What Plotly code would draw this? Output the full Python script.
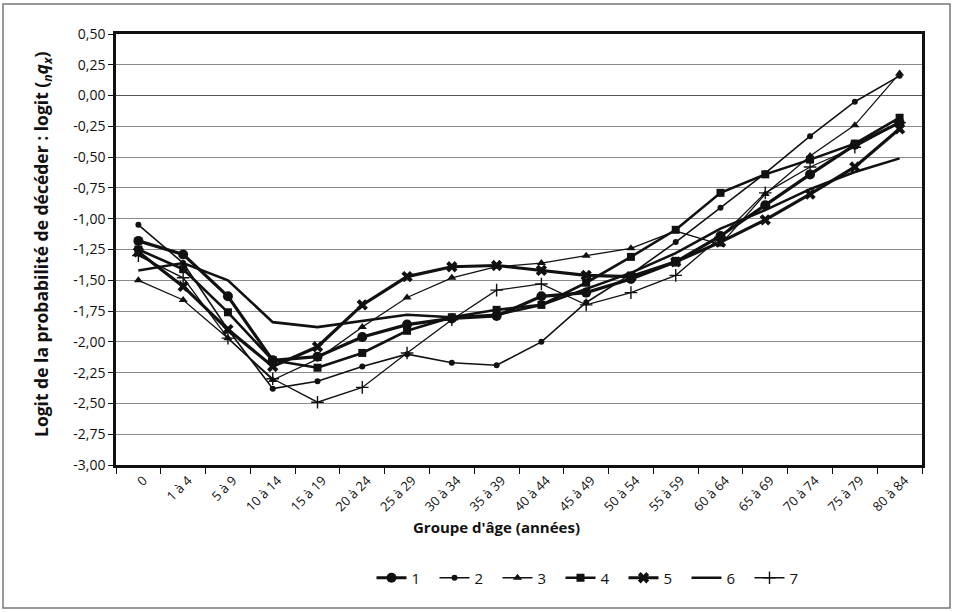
import plotly.graph_objects as go

# Age groups (x categories)
age_groups = ["0", "1 à 4", "5 à 9", "10 à 14", "15 à 19", "20 à 24", "25 à 29",
              "30 à 34", "35 à 39", "40 à 44", "45 à 49", "50 à 54", "55 à 59",
              "60 à 64", "65 à 69", "70 à 74", "75 à 79", "80 à 84"]

# Logit of the probability of dying, per series
s1 = [-1.18, -1.29, -1.63, -2.15, -2.12, -1.96, -1.86, -1.81, -1.79, -1.63, -1.60, -1.49,
      -1.35, -1.14, -0.89, -0.64, -0.40, -0.22]
s2 = [-1.05, -1.36, -1.90, -2.38, -2.32, -2.20, -2.10, -2.17, -2.19, -2.00, -1.68, -1.45,
      -1.19, -0.91, -0.63, -0.33, -0.05, 0.16]
s3 = [-1.50, -1.66, -1.97, -2.31, -2.14, -1.88, -1.64, -1.48, -1.39, -1.36, -1.30, -1.24,
      -1.10, -1.21, -0.80, -0.49, -0.24, 0.18]
s4 = [-1.25, -1.41, -1.76, -2.15, -2.21, -2.09, -1.91, -1.80, -1.74, -1.70, -1.52, -1.31,
      -1.09, -0.79, -0.64, -0.52, -0.39, -0.18]
s5 = [-1.27, -1.55, -1.90, -2.20, -2.04, -1.70, -1.47, -1.39, -1.38, -1.42, -1.46, -1.47,
      -1.35, -1.19, -1.01, -0.80, -0.58, -0.27]
s6 = [-1.42, -1.36, -1.50, -1.84, -1.88, -1.83, -1.78, -1.80, -1.78, -1.70, -1.57, -1.44,
      -1.28, -1.08, -0.93, -0.76, -0.62, -0.51]
s7 = [-1.30, -1.48, -1.97, -2.30, -2.49, -2.37, -2.09, -1.82, -1.58, -1.53, -1.70, -1.60,
      -1.46, -1.15, -0.79, -0.58, -0.42, -0.22]

series_names = ["1", "2", "3", "4", "5", "6", "7"]

y_ticks = [0.5, 0.25, 0.0, -0.25, -0.5, -0.75, -1.0, -1.25, -1.5, -1.75,
           -2.0, -2.25, -2.5, -2.75, -3.0]
y_tick_text = [f"{v:.2f}".replace(".", ",") for v in y_ticks]

INK = "#111111"
FONT = "Open Sans"

styles = [
    dict(line=dict(width=3.2), marker=dict(symbol="circle", size=10)),
    dict(line=dict(width=1.6), marker=dict(symbol="circle", size=6)),
    dict(line=dict(width=1.3), marker=dict(symbol="triangle-up", size=8)),
    dict(line=dict(width=2.6), marker=dict(symbol="square", size=8)),
    dict(line=dict(width=3.2), marker=dict(symbol="x", size=10)),
    dict(line=dict(width=2.6), marker=dict(symbol="circle", size=1, opacity=0)),
    dict(line=dict(width=1.3), marker=dict(symbol="cross-thin", size=9,
                                           line=dict(width=1.4, color=INK))),
]

fig = go.Figure()
for name, vals, st in zip(series_names, [s1, s2, s3, s4, s5, s6, s7], styles):
    line = dict(color=INK, **st["line"])
    marker = dict(color=INK, **st["marker"])
    mode = "lines" if name == "6" else "lines+markers"
    fig.add_trace(go.Scatter(x=age_groups, y=vals, name=name, mode=mode,
                             line=line, marker=marker))

L, R, T, B = 116, 31, 34, 147
W, H = 953, 612
pw, ph = W - L - R, H - T - B

def px_x(x):
    return (x - L) / pw

def px_y(y):
    return (H - B - y) / ph

fig.update_layout(
    width=W, height=H,
    margin=dict(l=L, r=R, t=T, b=B),
    paper_bgcolor="white", plot_bgcolor="white",
    font=dict(family=FONT, size=12, color=INK),
    showlegend=True,
    legend=dict(orientation="h", x=px_x(592), xanchor="center", y=px_y(578), yanchor="middle",
                font=dict(family=FONT, size=15, color=INK),
                entrywidth=18, entrywidthmode="pixels", itemwidth=30),
    xaxis=dict(type="category", range=[-0.5, len(age_groups) - 0.5],
               showgrid=False, showline=True, mirror=True,
               linecolor=INK, linewidth=2.5, ticks="outside", tickson="boundaries",
               ticklen=6, tickcolor=INK, tickangle=-45, ticklabelshift=5,
               tickfont=dict(family=FONT, size=13, color=INK)),
    yaxis=dict(range=[-3.0, 0.5], tickvals=y_ticks, ticktext=y_tick_text,
               showgrid=True, gridcolor="#8a8a8a", gridwidth=1,
               zeroline=True, zerolinecolor="#555555", zerolinewidth=1,
               showline=True, mirror=True, linecolor=INK, linewidth=2.5,
               ticks="outside", ticklen=5, tickcolor=INK,
               tickfont=dict(family=FONT, size=14, color=INK)),
    annotations=[
        dict(text="<b>Groupe d'âge (années)</b>", xref="paper", yref="paper",
             x=px_x(496), y=px_y(527), xanchor="center", yanchor="middle",
             showarrow=False, font=dict(family=FONT, size=15, color=INK)),
        dict(text="<b>Logit de la probabilité de décéder : logit (<sub><i>n</i></sub><i>q</i><sub><i>x</i></sub>)</b>",
             xref="paper", yref="paper", x=px_x(42), y=px_y(244), textangle=-90,
             xanchor="center", yanchor="middle",
             showarrow=False, font=dict(family=FONT, size=17.5, color=INK)),
    ],
    shapes=[
        dict(type="rect", xref="paper", yref="paper",
             x0=px_x(3), x1=px_x(950), y0=px_y(608), y1=px_y(4),
             line=dict(color="#777777", width=1.5)),
    ],
)

fig.write_html("out.html")
